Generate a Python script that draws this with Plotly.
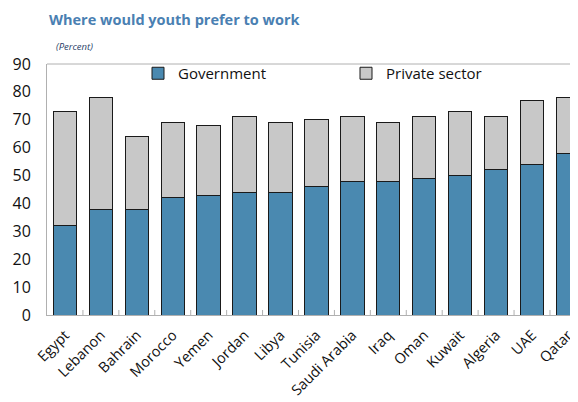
import plotly.graph_objects as go

countries = ["Egypt", "Lebanon", "Bahrain", "Morocco", "Yemen", "Jordan", "Libya", "Tunisia",
             "Saudi Arabia", "Iraq", "Oman", "Kuwait", "Algeria", "UAE", "Qatar"]
government = [32, 38, 38, 42, 43, 44, 44, 46, 48, 48, 49, 50, 52, 54, 58]
total = [73, 78, 64, 69, 68, 71, 69, 70, 71, 69, 71, 73, 71, 77, 78]
private = [t - g for t, g in zip(total, government)]

# page body has an 8px margin, so the figure is drawn 8px smaller
W, H = 570, 394
ML, MR, MT, MB = 39, 0, 56, 87
PW = W - ML - MR
PH = H - MT - MB

fig = go.Figure()
fig.add_trace(go.Bar(x=countries, y=government, name="Government",
                     marker=dict(color="#4a89b0", line=dict(color="#1a1a1a", width=1))))
fig.add_trace(go.Bar(x=countries, y=private, name="Private sector",
                     marker=dict(color="#c8c8c8", line=dict(color="#1a1a1a", width=1))))

fig.update_layout(
    width=W, height=H, barmode="stack", bargap=0.35,
    margin=dict(l=ML, r=MR, t=MT, b=MB, autoexpand=False),
    plot_bgcolor="white", paper_bgcolor="white",
    font=dict(family="Open Sans", color="#111111"),
    showlegend=True,
    legend=dict(orientation="h", x=(130 - ML) / PW, y=1 + 7 / PH, xanchor="left", yanchor="top",
                font=dict(size=15), entrywidth=163, entrywidthmode="pixels",
                bgcolor="rgba(0,0,0,0)", traceorder="normal", itemwidth=30),
    xaxis=dict(range=[-0.5, 14.28], showline=True, linecolor="#b0b0b0", linewidth=1,
               tickangle=-45, tickfont=dict(size=14.5), ticks="", showgrid=False,
               automargin=False, ticklabelstandoff=5),
    yaxis=dict(range=[0, 90], dtick=10, showline=True, linecolor="#b0b0b0", linewidth=1,
               tickfont=dict(size=16), showgrid=False, zeroline=False, ticks="",
               automargin=False, ticklabelstandoff=12),
    shapes=[dict(type="line", xref="paper", yref="paper", x0=0, x1=1, y0=1, y1=1,
                 line=dict(color="#b0b0b0", width=1))],
    annotations=[
        dict(text="<b>Where would youth prefer to work</b>", xref="paper", yref="paper",
             x=0, y=1 + 44 / PH, xanchor="left", yanchor="middle",
             showarrow=False, font=dict(size=14.5, color="#4a80b2")),
        dict(text="<i>(Percent)</i>", xref="paper", yref="paper",
             x=0.014, y=1 + 18 / PH, xanchor="left", yanchor="middle",
             showarrow=False, font=dict(size=9.5, color="#2a3f6a")),
    ],
)

# small tick marks between categories
for i in range(len(countries) - 1):
    fig.add_shape(type="line", xref="x", yref="paper", x0=i + 0.5, x1=i + 0.5,
                  y0=0, y1=0.02, line=dict(color="#b0b0b0", width=1))

fig.write_html("out.html")
